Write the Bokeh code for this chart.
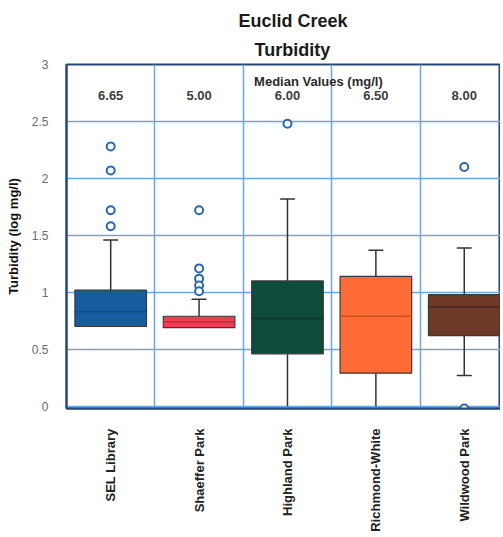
import math
from bokeh.plotting import figure
from bokeh.models import Range1d, FixedTicker, Title, ColumnDataSource
from bokeh.core.properties import value
from bokeh.embed import file_html
from bokeh.resources import INLINE

# ---- data ----
sites = ["SEL Library", "Shaeffer Park", "Highland Park", "Richmond-White", "Wildwood Park"]
q1 = [0.70, 0.69, 0.46, 0.29, 0.62]
medians = [0.83, 0.74, 0.77, 0.79, 0.87]
q3 = [1.02, 0.79, 1.10, 1.14, 0.98]
whisk_low = [0.70, 0.69, 0.00, 0.00, 0.27]
whisk_high = [1.46, 0.94, 1.82, 1.37, 1.39]
box_colors = ["#175c9f", "#ee3f52", "#0f4b3b", "#ff6b35", "#6c3a27"]
median_line_colors = ["#0f4a84", "#c02c3e", "#0a3a2d", "#c9501f", "#4e2818"]
median_labels = ["6.65", "5.00", "6.00", "6.50", "8.00"]
outlier_site = [0, 0, 0, 0, 1, 1, 1, 1, 1, 2, 4, 4]
outlier_vals = [2.28, 2.07, 1.72, 1.58, 1.72, 1.21, 1.12, 1.06, 1.01, 2.48, 2.10, -0.02]
y_ticks = [0, 0.5, 1, 1.5, 2, 2.5, 3]

centers = [i + 0.5 for i in range(len(sites))]

W, H = 500, 534
p = figure(width=W, height=H, output_backend="svg", toolbar_location=None, title=None,
           x_range=Range1d(0, 4.91), y_range=Range1d(-0.02, 3.0),
           min_border_left=66, min_border_right=0, min_border_top=64, min_border_bottom=H - 423)
p.background_fill_color = "white"
p.border_fill_color = "white"
p.outline_line_color = "#24477a"
p.outline_line_width = 2

# title: two stacked lines (first added sits closest to the plot)
p.add_layout(Title(text="Turbidity", align="left", offset=188, text_font="Liberation Sans",
                   text_font_style="bold", text_font_size="18px", text_color="#1a1a1a",
                   standoff=10), "above")
p.add_layout(Title(text="Euclid Creek", align="left", offset=172, text_font="Liberation Sans",
                   text_font_style="bold", text_font_size="18px", text_color="#1a1a1a",
                   standoff=3), "above")

# grids
p.xgrid.ticker = FixedTicker(ticks=[1, 2, 3, 4])
p.ygrid.ticker = FixedTicker(ticks=y_ticks)
p.xgrid.grid_line_color = "#6fa6da"
p.ygrid.grid_line_color = "#6fa6da"
p.xgrid.grid_line_width = 1.5
p.ygrid.grid_line_width = 1.5

# axes
p.xaxis.ticker = FixedTicker(ticks=centers)
p.xaxis.major_label_overrides = {c: s for c, s in zip(centers, sites)}
p.xaxis.major_label_orientation = math.pi / 2
p.xaxis.major_label_text_font = "Liberation Sans"
p.xaxis.major_label_text_font_style = "bold"
p.xaxis.major_label_text_font_size = "13px"
p.xaxis.major_label_text_color = "#222222"
p.xaxis.major_tick_line_color = None
p.xaxis.minor_tick_line_color = None
p.xaxis.axis_line_color = "#24477a"
p.xaxis.axis_line_width = 2
p.xaxis.major_label_standoff = 14

p.yaxis.ticker = FixedTicker(ticks=y_ticks)
p.yaxis.major_label_overrides = {0: "0", 0.5: "0.5", 1: "1", 1.5: "1.5", 2: "2", 2.5: "2.5", 3: "3"}
p.yaxis.major_label_text_font = "Liberation Sans"
p.yaxis.major_label_text_font_size = "12px"
p.yaxis.major_label_text_color = "#6a6a6a"
p.yaxis.major_tick_line_color = None
p.yaxis.minor_tick_line_color = None
p.yaxis.axis_line_color = "#24477a"
p.yaxis.axis_line_width = 2
p.yaxis.major_label_standoff = 12
p.yaxis.axis_label = "Turbidity (log mg/l)"
p.yaxis.axis_label_text_font = "Liberation Sans"
p.yaxis.axis_label_text_font_style = "bold"
p.yaxis.axis_label_text_font_size = "13px"
p.yaxis.axis_label_text_color = "#111111"
p.yaxis.axis_label_standoff = 8

src = ColumnDataSource(dict(x=centers, q1=q1, q3=q3, med=medians, lo=whisk_low, hi=whisk_high,
                            color=box_colors, mcolor=median_line_colors, lab=median_labels))

# whiskers
p.segment(x0="x", y0="q3", x1="x", y1="hi", source=src, line_color="#333333", line_width=1.5)
p.segment(x0="x", y0="lo", x1="x", y1="q1", source=src, line_color="#333333", line_width=1.5)
p.rect(x="x", y="hi", width=0.16, height=0.0001, source=src, line_color="#333333", line_width=1.5, fill_color=None)
src_lo_caps = ColumnDataSource(dict(x=[c for c, l, a in zip(centers, whisk_low, q1) if l < a and l > 0],
                                    y=[l for l, a in zip(whisk_low, q1) if l < a and l > 0]))
p.rect(x="x", y="y", width=0.16, height=0.0001, source=src_lo_caps, line_color="#333333", line_width=1.5, fill_color=None)

# boxes
p.vbar(x="x", bottom="q1", top="q3", width=0.81, source=src, fill_color="color",
       line_color="#3a3a3a", line_width=1.2)
p.rect(x="x", y="med", width=0.81, height=0.0001, source=src, line_color="mcolor", line_width=1.5, fill_color=None)

# outliers
osrc = ColumnDataSource(dict(x=[centers[i] for i in outlier_site], y=outlier_vals))
p.scatter(x="x", y="y", source=osrc, marker="circle", size=8, fill_color="white",
          line_color="#2c67ad", line_width=2)

# median value labels
p.text(x=centers, y=[2.725] * len(centers), text=median_labels, text_align="center", text_baseline="middle",
       text_font=value("Liberation Sans"), text_font_style="bold", text_font_size="13px", text_color="#3d3d3d")
p.text(x=[2.85], y=[2.85], text=["Median Values (mg/l)"], text_align="center", text_baseline="middle",
       text_font=value("Liberation Sans"), text_font_style="bold", text_font_size="13px", text_color="#2a2a2a")

open("out.html", "w").write(file_html(p, INLINE))
